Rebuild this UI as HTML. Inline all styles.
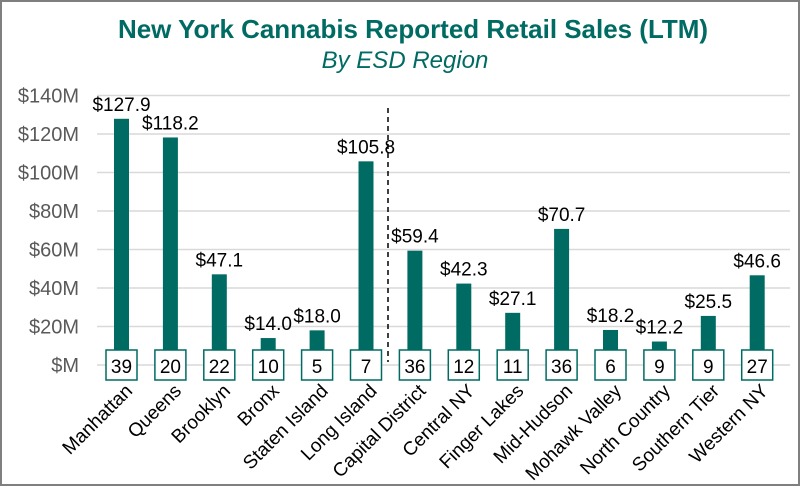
<!DOCTYPE html>
<html><head><meta charset="utf-8"><style>
body{margin:0;background:#fff}
svg{display:block;font-family:"Liberation Sans",Arial,sans-serif}
</style></head><body>
<svg id="chart" width="800" height="486" viewBox="0 0 800 486">
<rect x="1" y="1" width="798" height="484" fill="#fff" stroke="#7f7f7f" stroke-width="2"/>
<text x="413" y="38" text-anchor="middle" font-size="26" font-weight="bold" fill="#006b63" textLength="590" lengthAdjust="spacingAndGlyphs">New York Cannabis Reported Retail Sales (LTM)</text>
<text x="405" y="68" text-anchor="middle" font-size="24" font-style="italic" fill="#006b63">By ESD Region</text>
<g id="grid"></g><g id="bars"></g>
</svg>
<script>
const categories=["Manhattan","Queens","Brooklyn","Bronx","Staten Island","Long Island","Capital District","Central NY","Finger Lakes","Mid-Hudson","Mohawk Valley","North Country","Southern Tier","Western NY"];
const sales=[127.9,118.2,47.1,14.0,18.0,105.8,59.4,42.3,27.1,70.7,18.2,12.2,25.5,46.6];
const counts=[39,20,22,10,5,7,36,12,11,36,6,9,9,27];
const ticks=[0,20,40,60,80,100,120,140];
const tickLabels=["$M","$20M","$40M","$60M","$80M","$100M","$120M","$140M"];
const NS="http://www.w3.org/2000/svg";
const y0=365,yPer=269.5/140,x0=97,step=48.9;
const y=v=>y0-v*yPer;
const x=i=>x0+24.5+i*step;
function mk(tag,attrs,parent,text){const e=document.createElementNS(NS,tag);for(const k in attrs)e.setAttribute(k,attrs[k]);if(text!==undefined)e.textContent=text;parent.appendChild(e);return e;}
const grid=document.getElementById('grid'),bars=document.getElementById('bars');
ticks.forEach((t,i)=>{
 const l=mk('line',{x1:x0,x2:790,y1:y(t),y2:y(t),stroke:'#d9d9d9','stroke-width':1.5},grid);
 
 
 const tx=mk('text',{x:79,y:y(t)+7,'text-anchor':'end','font-size':20,fill:'#595959'},grid,tickLabels[i]);
 
 
});
const dl=mk('line',{x1:388,x2:388,y1:108,y2:362,stroke:'#000','stroke-width':1.5,'stroke-dasharray':'5,4'},grid);


categories.forEach((c,i)=>{
 const cx=x(i);
 const b=mk('rect',{x:cx-7.5,y:y(sales[i]),width:15,height:y0-y(sales[i]),fill:'#006b63'},bars);
 
 
 const v=mk('text',{x:cx,y:y(sales[i])-8,'text-anchor':'middle','font-size':19,fill:'#000'},bars,'$'+sales[i].toFixed(1));
 
 
 const bx=mk('rect',{x:cx-15.5,y:350,width:31,height:30,fill:'#fff',stroke:'#006b63','stroke-width':1.5},bars);
 
 
 const ct=mk('text',{x:cx,y:373,'text-anchor':'middle','font-size':19,fill:'#000'},bars,counts[i]);
 
 
 const ax=cx+12,ay=392;
 const lb=mk('text',{x:ax,y:ay,'text-anchor':'end','font-size':19,fill:'#000',transform:`rotate(-45 ${ax} ${ay})`},bars,c);
 
 
});
</script>
</body></html>
